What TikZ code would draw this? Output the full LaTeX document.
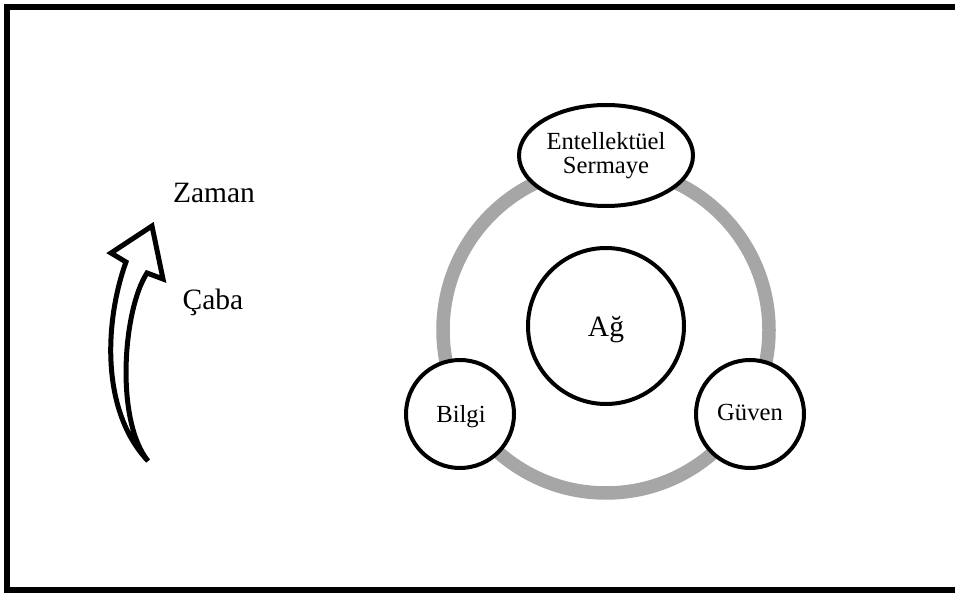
\documentclass[tikz,border=0pt]{standalone}
\usepackage{fontspec}
\setmainfont{Liberation Serif}
\usetikzlibrary{shapes.geometric}
\definecolor{ringgray}{RGB}{166,166,166}
\tikzset{
  bubble/.style={circle, draw=black, fill=white, line width=4pt, inner sep=0pt},
  capsule/.style={ellipse, draw=black, fill=white, line width=4pt, inner sep=0pt,
    align=center, font=\fontsize{24.6}{23.5}\selectfont},
  smalltxt/.style={anchor=base, inner sep=0pt, font=\fontsize{24.6}{28}\selectfont},
  bigtxt/.style={anchor=base, inner sep=0pt, font=\fontsize{29.5}{34}\selectfont},
  blockarrow/.style={draw=black, fill=white, line width=5pt, line join=miter},
}
\begin{document}
\begin{tikzpicture}[x=1pt,y=-1pt]
\useasboundingbox (0,0) rectangle (955,593);
\clip (0,0) rectangle (955,593);
% outer frame (right side runs past the page)
\draw[line width=6pt] (7,7) rectangle (975,590);

% grey ring joining the three satellites
\coordinate (hub) at (606,330);
\draw[ringgray, line width=13.5pt] (hub) circle[radius=163];

% central circle and satellites
\node[bubble, minimum size=156pt] (ag) at (606,326) {};
\node[bigtxt] (agtext) at (606,336) {Ağ};

\node[capsule, minimum width=174pt, minimum height=101pt] (sermaye) at (606,155.5)
  {Entellektüel\\Sermaye};

\node[bubble, minimum size=108pt] (bilgi) at (460,414) {};
\node[smalltxt] (bilgitext) at (461,422) {Bilgi};

\node[bubble, minimum size=108pt] (guven) at (750,414) {};
\node[smalltxt] (guventext) at (750,420.7) {Güven};

% curved block arrow on the left
\draw[blockarrow] (148,461) .. controls (100,410) and (105,320) .. (126,262)
  -- (111,253) -- (152,226) -- (163,279) -- (147,273)
  .. controls (123,310) and (115,420) .. (148,461) -- cycle;

\node[bigtxt] (zaman) at (214,203) {Zaman};
\node[bigtxt] (caba) at (213,310) {Çaba};
\end{tikzpicture}
\end{document}
